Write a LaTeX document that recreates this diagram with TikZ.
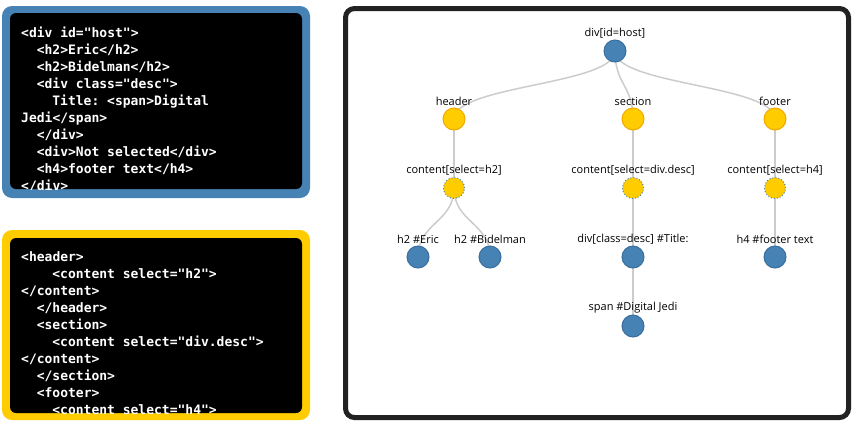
\documentclass[tikz,border=0pt]{standalone}
\usepackage{fontspec}
\setmainfont{Open Sans}
\setmonofont{DejaVu Sans Mono}
\usetikzlibrary{backgrounds}

\definecolor{steel}{HTML}{4682B4}
\definecolor{steeldark}{HTML}{3A6E9C}
\definecolor{gold}{HTML}{FFCC00}
\definecolor{goldedge}{HTML}{F5A700}
\definecolor{linkgray}{HTML}{CCCCCC}
\definecolor{framegray}{HTML}{222222}

\begin{document}
\begin{tikzpicture}[x=1pt,y=-1pt,
  codeline/.style={anchor=base west, inner sep=0, text=white,
    font=\ttfamily\bfseries\fontsize{13}{15}\selectfont},
  tlabel/.style={font=\fontsize{11}{13}\selectfont, inner sep=0, text=black, label distance=1.5pt},
  elem/.style={circle, minimum size=22pt, inner sep=0, fill=steel, draw=steeldark, line width=1pt},
  shadowroot/.style={circle, minimum size=22pt, inner sep=0, fill=gold, draw=goldedge, line width=1pt},
  slot/.style={circle, minimum size=21pt, inner sep=0, fill=gold, draw=steel, line width=1pt, dotted},
  link/.style={draw=linkgray, line width=1.5pt},
]
\useasboundingbox (0,0) rectangle (854,424);

% ---- light DOM source ----
\fill[steel, rounded corners=10pt] (2,6) rectangle (310,198);
\fill[black, rounded corners=6pt] (10,13) rectangle (302,189);
\begin{scope}
  \clip[rounded corners=6pt] (10,13) rectangle (302,189);
  \node[codeline] (l1)  at (21,37)    {<div id="host">};
  \node[codeline] (l2)  at (36.6,54)  {<h2>Eric</h2>};
  \node[codeline] (l3)  at (36.6,71)  {<h2>Bidelman</h2>};
  \node[codeline] (l4)  at (36.6,88)  {<div class="desc">};
  \node[codeline] (l5)  at (52.2,105) {Title: <span>Digital};
  \node[codeline] (l6)  at (21,122)   {Jedi</span>};
  \node[codeline] (l7)  at (36.6,139) {</div>};
  \node[codeline] (l8)  at (36.6,156) {<div>Not selected</div>};
  \node[codeline] (l9)  at (36.6,173) {<h4>footer text</h4>};
  \node[codeline] (l10) at (21,190)   {</div>};
\end{scope}

% ---- shadow DOM template ----
\fill[gold, rounded corners=10pt] (2,230) rectangle (310,420);
\fill[black, rounded corners=6pt] (10,238) rectangle (302,413);
\begin{scope}
  \clip[rounded corners=6pt] (10,238) rectangle (302,413);
  \node[codeline] (s1)  at (21,261)   {<header>};
  \node[codeline] (s2)  at (52.2,278) {<content select="h2">};
  \node[codeline] (s3)  at (21,295)   {</content>};
  \node[codeline] (s4)  at (36.6,312) {</header>};
  \node[codeline] (s5)  at (36.6,329) {<section>};
  \node[codeline] (s6)  at (52.2,346) {<content select="div.desc">};
  \node[codeline] (s7)  at (21,363)   {</content>};
  \node[codeline] (s8)  at (36.6,380) {</section>};
  \node[codeline] (s9)  at (36.6,397) {<footer>};
  \node[codeline] (s10) at (52.2,414) {<content select="h4">};
\end{scope}

% ---- composed tree ----
\draw[framegray, line width=5pt, rounded corners=9pt] (345.5,8.5) rectangle (848.5,417.5);

\node[elem, label={[tlabel]90:{div[id=host]}}] (root) at (615,51) {};

\node[shadowroot, label={[tlabel]90:header}]  (header)  at (454,119) {};
\node[shadowroot, label={[tlabel]90:section}] (section) at (633,119) {};
\node[shadowroot, label={[tlabel]90:footer}]  (footer)  at (775,119) {};

\node[slot, label={[tlabel]90:{content[select=h2]}}]       (ch2)   at (454,188) {};
\node[slot, label={[tlabel]90:{content[select=div.desc]}}] (cdesc) at (633,188) {};
\node[slot, label={[tlabel]90:{content[select=h4]}}]       (ch4)   at (775,188) {};

\node[elem, label={[tlabel]90:{h2 \#Eric}}]                 (eric)   at (418,257) {};
\node[elem, label={[tlabel]90:{h2 \#Bidelman}}]             (bidel)  at (490,257) {};
\node[elem, label={[tlabel]90:{div[class=desc] \#Title:}}]  (desc)   at (633,257) {};
\node[elem, label={[tlabel]90:{h4 \#footer text}}]          (ftext)  at (775,257) {};
\node[elem, label={[tlabel]90:{span \#Digital Jedi}}]       (span)   at (633,326) {};

\begin{scope}[on background layer]
  \draw[link] (root.center) .. controls +(0,34) and +(0,-34) .. (header.center);
  \draw[link] (root.center) .. controls +(0,34) and +(0,-34) .. (section.center);
  \draw[link] (root.center) .. controls +(0,34) and +(0,-34) .. (footer.center);
  \draw[link] (header.center) -- (ch2.center);
  \draw[link] (section.center) -- (cdesc.center);
  \draw[link] (footer.center) -- (ch4.center);
  \draw[link] (ch2.center) .. controls +(0,34.5) and +(0,-34.5) .. (eric.center);
  \draw[link] (ch2.center) .. controls +(0,34.5) and +(0,-34.5) .. (bidel.center);
  \draw[link] (cdesc.center) -- (desc.center);
  \draw[link] (ch4.center) -- (ftext.center);
  \draw[link] (desc.center) -- (span.center);
\end{scope}
\end{tikzpicture}
\end{document}
